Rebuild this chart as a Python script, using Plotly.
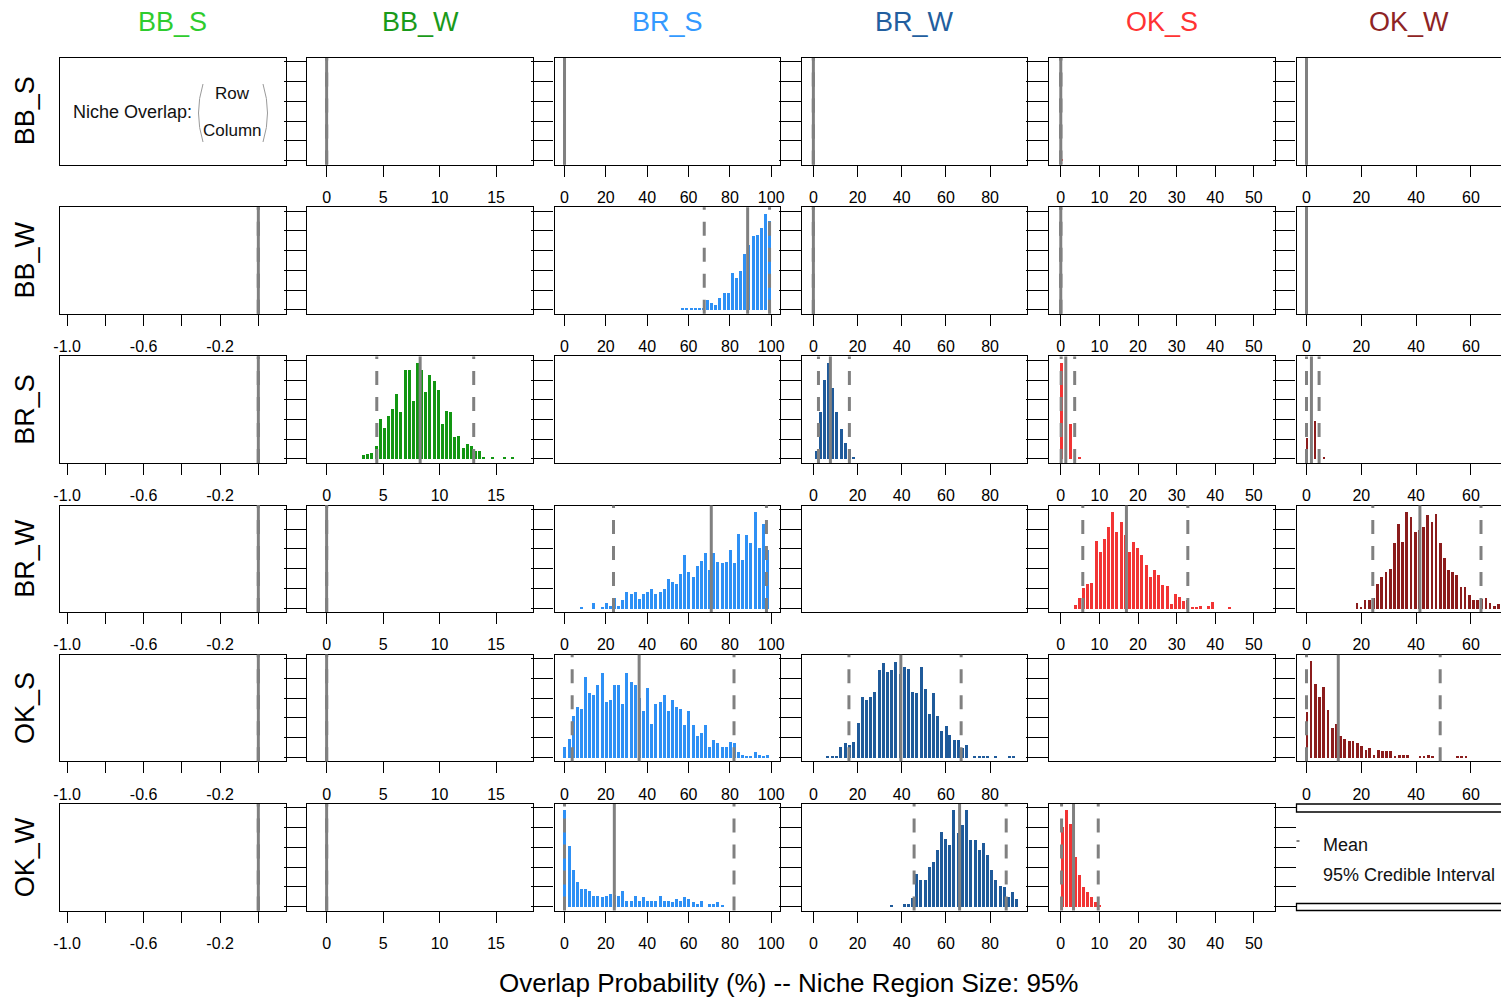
import plotly.graph_objects as go

W, H = 1501, 998

species = ["BB_S", "BB_W", "BR_S", "BR_W", "OK_S", "OK_W"]
title_colors = ["#2ECC2E", "#1A9A1A", "#3399FF", "#225E9E", "#FF3333", "#8E2424"]
bar_colors = ["#22B822", "#129612", "#2E90F5", "#1F5A9A", "#F23434", "#8B1C1C"]

# Posterior mean and 95% credible interval of the overlap probability (%)
# rows = niche of row species, cols = column species; diagonal unused
ov_mean = [
    [None, 0, 0, 0, 0, 0],
    [0, None, 88.6, 0, 0, 0],
    [0, 8.28, None, 7.7, 1.3, 1.8],
    [0, 0, 71.0, None, 17.0, 41.4],
    [0, 0, 36.1, 39.6, None, 11.6],
    [0, 0, 24.1, 66.2, 3.3, None],
]
ov_lo = [
    [None, 0, 0, 0, 0, 0],
    [0, None, 67.6, 0, 0, 0],
    [0, 4.44, None, 2.3, 0.1, 0.0],
    [0, 0, 23.7, None, 5.7, 24.2],
    [0, 0, 3.7, 16.1, None, 0.0],
    [0, 0, 0.0, 45.6, 0.2, None],
]
ov_hi = [
    [None, 0, 0, 0, 0, 0],
    [0, None, 99.2, 0, 0, 0],
    [0, 13.02, None, 16.3, 3.6, 4.6],
    [0, 0, 97.7, None, 32.9, 63.7],
    [0, 0, 82.0, 66.9, None, 48.8],
    [0, 0, 82.0, 87.3, 9.7, None],
]

# Histogram bin centres and relative heights of the posterior overlap draws
bbs_oks_x = [0.3]
bbs_oks_h = [0.015]

bbw_brs_x = [57, 59, 61, 63, 65, 67, 69, 71, 73, 75, 77, 79, 81, 83, 85, 87, 89, 91, 93, 95, 97, 99]
bbw_brs_h = [0.015, 0.015, 0.015, 0.01, 0.015, 0.02, 0.095, 0.068, 0.045, 0.12, 0.17, 0.17,
             0.375, 0.32, 0.39, 0.56, 0.65, 0.745, 0.76, 0.83, 0.965, 0.90]

brs_bbw_x = [3.30, 3.67, 4.03, 4.40, 4.77, 5.14, 5.50, 5.87, 6.24, 6.60, 6.97, 7.34, 7.70, 8.07,
             8.44, 8.81, 9.17, 9.54, 9.91, 10.27, 10.64, 11.01, 11.37, 11.74, 12.11, 12.48, 12.84,
             13.21, 13.58, 13.94, 14.68, 15.78, 16.51]
brs_bbw_h = [0.04, 0.05, 0.06, 0.13, 0.40, 0.31, 0.43, 0.50, 0.65, 0.47, 0.90, 0.90, 0.58, 0.97,
             0.90, 0.67, 0.85, 0.79, 0.70, 0.35, 0.48, 0.47, 0.22, 0.23, 0.11, 0.15, 0.13, 0.08,
             0.08, 0.015, 0.02, 0.015, 0.015]

brs_brw_x = [1.2, 3.1, 5.0, 6.8, 8.7, 10.6, 12.5, 14.4, 16.2, 18.1]
brs_brw_h = [0.08, 0.47, 0.80, 0.97, 0.72, 0.47, 0.30, 0.16, 0.095, 0.015]

brs_oks_x = [0.35, 2.6, 4.9]
brs_oks_h = [0.97, 0.35, 0.015]

brs_okw_x = [0.1, 3.05, 6.1]
brs_okw_h = [0.21, 0.38, 0.015]

brw_brs_x = [8, 14, 18, 20, 22, 24, 26, 28, 30, 32, 34, 36, 38, 40, 42, 44, 46, 48, 50, 52, 54,
             56, 58, 60, 62, 64, 66, 68, 70, 72, 74, 76, 78, 80, 82, 84, 86, 88, 90, 92, 94, 96, 98]
brw_brs_h = [0.015, 0.06, 0.015, 0.06, 0.027, 0.11, 0.03, 0.085, 0.165, 0.145, 0.165, 0.095,
             0.145, 0.165, 0.20, 0.145, 0.165, 0.20, 0.30, 0.27, 0.25, 0.355, 0.54, 0.37, 0.32,
             0.435, 0.48, 0.56, 0.39, 0.56, 0.47, 0.46, 0.47, 0.59, 0.46, 0.76, 0.49, 0.75, 0.66,
             0.98, 0.61, 0.86, 0.59]

brw_oks_x = [3.80, 4.88, 5.96, 7.04, 8.12, 9.20, 10.28, 11.36, 12.44, 13.52, 14.60, 15.68, 16.76,
             17.84, 18.92, 20.00, 21.08, 22.16, 23.24, 24.32, 25.40, 26.48, 27.56, 28.64, 29.72,
             30.80, 31.88, 32.96, 34.04, 35.12, 36.20, 38.36, 39.44, 43.76]
brw_oks_h = [0.034, 0.11, 0.21, 0.25, 0.26, 0.69, 0.57, 0.71, 0.83, 0.98, 0.78, 0.88, 0.75, 0.57,
             0.68, 0.61, 0.54, 0.44, 0.32, 0.39, 0.34, 0.24, 0.23, 0.05, 0.15, 0.12, 0.08, 0.09,
             0.017, 0.017, 0.027, 0.027, 0.068, 0.015]

brw_okw_x = [18.2, 19.7, 21.2, 22.8, 24.3, 25.8, 27.3, 28.8, 30.4, 31.9, 33.4, 34.9, 36.4, 38.0,
             39.5, 41.0, 42.5, 44.0, 45.6, 47.1, 48.6, 50.1, 51.6, 53.2, 54.7, 56.2, 57.7, 59.2,
             60.8, 62.3, 63.8, 65.3, 66.8, 68.4, 69.9, 71.4]
brw_okw_h = [0.06, 0.015, 0.085, 0.085, 0.11, 0.25, 0.32, 0.37, 0.40, 0.66, 0.86, 0.68, 0.98, 0.93,
             0.78, 0.80, 0.83, 0.95, 0.88, 0.96, 0.66, 0.51, 0.39, 0.37, 0.34, 0.22, 0.22, 0.135,
             0.085, 0.085, 0.10, 0.11, 0.06, 0.027, 0.044, 0.03]

oks_brs_x = [0, 2, 4, 6, 8, 10, 12, 14, 16, 18, 20, 22, 24, 26, 28, 30, 32, 34, 36, 38, 40, 42,
             44, 46, 48, 50, 52, 54, 56, 58, 60, 62, 64, 66, 68, 70, 72, 74, 76, 78, 80, 82, 84,
             86, 88, 90, 92, 94, 96, 98]
oks_brs_h = [0.11, 0.185, 0.42, 0.51, 0.49, 0.82, 0.65, 0.63, 0.74, 0.86, 0.56, 0.58, 0.74, 0.74,
             0.54, 0.86, 0.77, 0.74, 0.60, 0.47, 0.71, 0.34, 0.54, 0.56, 0.63, 0.47, 0.58, 0.51,
             0.49, 0.33, 0.47, 0.33, 0.22, 0.25, 0.33, 0.11, 0.18, 0.15, 0.11, 0.11, 0.16, 0.15,
             0.06, 0.025, 0.015, 0.015, 0.06, 0.025, 0.015, 0.025]

oks_brw_x = [6.5, 8.4, 10.4, 12.4, 14.4, 16.3, 18.2, 20.2, 22.0, 24.0, 25.9, 27.8, 29.7, 31.6,
             33.5, 35.4, 37.3, 39.2, 41.1, 43.0, 44.9, 46.8, 48.7, 50.5, 52.4, 54.3, 56.2, 58.1,
             60.0, 61.8, 63.7, 65.6, 67.5, 69.4, 73.1, 75.0, 76.9, 78.8, 82.6, 88.6, 90.4]
oks_brw_h = [0.015, 0.015, 0.015, 0.11, 0.15, 0.13, 0.16, 0.35, 0.61, 0.58, 0.61, 0.66, 0.89, 0.96,
             0.87, 0.89, 0.97, 0.85, 0.92, 0.90, 0.66, 0.65, 0.92, 0.70, 0.44, 0.65, 0.42, 0.27,
             0.32, 0.23, 0.18, 0.18, 0.095, 0.13, 0.015, 0.02, 0.015, 0.01, 0.01, 0.01, 0.01]

oks_okw_x = [0.0, 1.5, 3.0, 4.6, 6.1, 7.7, 9.3, 10.7, 12.3, 13.8, 15.4, 16.8, 18.4, 19.9, 21.5,
             22.9, 24.5, 26.0, 27.6, 29.0, 30.6, 32.1, 33.7, 35.1, 36.7, 41.2, 42.7, 44.3, 45.9,
             54.9, 56.5, 58.0]
oks_okw_h = [0.46, 0.98, 0.75, 0.61, 0.72, 0.48, 0.30, 0.34, 0.22, 0.185, 0.17, 0.17, 0.15, 0.12,
             0.08, 0.10, 0.03, 0.08, 0.065, 0.065, 0.065, 0.015, 0.03, 0.03, 0.03, 0.015, 0.015,
             0.03, 0.015, 0.015, 0.015, 0.015]

okw_brs_x = [0, 2, 4, 6, 8, 10, 12, 14, 16, 18, 20, 22, 24, 26, 28, 30, 32, 34, 36, 38, 40, 42,
             44, 46, 48, 50, 52, 54, 56, 58, 60, 62, 64, 66, 70, 72, 74, 76]
okw_brs_h = [0.98, 0.61, 0.37, 0.25, 0.18, 0.18, 0.16, 0.11, 0.11, 0.095, 0.11, 0.13, 0.12, 0.11,
             0.16, 0.06, 0.06, 0.11, 0.06, 0.095, 0.06, 0.06, 0.06, 0.11, 0.06, 0.06, 0.045, 0.08,
             0.06, 0.095, 0.08, 0.045, 0.027, 0.06, 0.027, 0.027, 0.045, 0.02]

okw_brw_x = [35.3, 41.0, 43.0, 44.8, 46.8, 48.6, 50.5, 52.3, 54.3, 56.1, 58.1, 59.9, 61.8, 63.6,
             65.5, 67.4, 69.4, 71.2, 73.2, 75.0, 76.9, 78.7, 80.7, 82.5, 84.5, 86.3, 88.2, 90.0, 92.0]
okw_brw_h = [0.02, 0.03, 0.03, 0.085, 0.33, 0.27, 0.27, 0.40, 0.45, 0.57, 0.76, 0.69, 0.62, 0.98,
             0.75, 0.83, 0.98, 0.67, 0.67, 0.57, 0.64, 0.52, 0.37, 0.27, 0.21, 0.20, 0.095, 0.15, 0.08]

okw_oks_x = [0.43, 1.55, 2.6, 3.8, 4.8, 6.0, 7.0, 8.1, 9.1, 10.1]
okw_oks_h = [0.81, 0.98, 0.84, 0.50, 0.32, 0.20, 0.15, 0.095, 0.044, 0.02]

hists = {
    (0, 4): (bbs_oks_x, bbs_oks_h),
    (1, 2): (bbw_brs_x, bbw_brs_h),
    (2, 1): (brs_bbw_x, brs_bbw_h),
    (2, 3): (brs_brw_x, brs_brw_h),
    (2, 4): (brs_oks_x, brs_oks_h),
    (2, 5): (brs_okw_x, brs_okw_h),
    (3, 2): (brw_brs_x, brw_brs_h),
    (3, 4): (brw_oks_x, brw_oks_h),
    (3, 5): (brw_okw_x, brw_okw_h),
    (4, 2): (oks_brs_x, oks_brs_h),
    (4, 3): (oks_brw_x, oks_brw_h),
    (4, 5): (oks_okw_x, oks_okw_h),
    (5, 2): (okw_brs_x, okw_brs_h),
    (5, 3): (okw_brw_x, okw_brw_h),
    (5, 4): (okw_oks_x, okw_oks_h),
}
# bar width in pixels (thin spikes where only a few discrete values occur)
bar_px = {(2, 5): 1.3}

# x-axis set-up of each column
col_range = [[-1.037, 0.142], [-1.71, 18.25], [-4.8, 104.3], [-5.2, 96.9], [-3.0, 55.4], [-3.65, 71.0]]
col_tickvals = [[-1.0, -0.8, -0.6, -0.4, -0.2, 0.0], [0, 5, 10, 15], [0, 20, 40, 60, 80, 100],
                [0, 20, 40, 60, 80], [0, 10, 20, 30, 40, 50], [0, 20, 40, 60]]
col_ticktext = [["-1.0", "", "-0.6", "", "-0.2", ""], ["0", "5", "10", "15"],
                ["0", "20", "40", "60", "80", "100"], ["0", "20", "40", "60", "80"],
                ["0", "10", "20", "30", "40", "50"], ["0", "20", "40", "60"]]

# panel geometry (pixels)
col_left = [60.0, 307.3, 554.6, 801.9, 1049.2, 1296.5]
box_w = 225.5
row_top = [58.0, 207.2, 356.4, 505.6, 654.8, 804.0]
box_h = 106.5

FONT = "Liberation Sans, Arial, sans-serif"
GREY = "#808080"


def px(x):
    return x / W


def py(y):
    return 1 - y / H


fig = go.Figure()
layout = dict(
    width=W, height=H, margin=dict(l=0, r=0, t=0, b=0, autoexpand=False),
    paper_bgcolor="white", plot_bgcolor="white", showlegend=False,
    font=dict(family=FONT, color="black"), bargap=0,
)
shapes = []
annotations = []

for r in range(6):
    for c in range(6):
        n = r * 6 + c + 1
        sfx = "" if n == 1 else str(n)
        xa, ya = "x" + sfx, "y" + sfx
        x0 = col_left[c]
        x1 = min(x0 + box_w, W)
        diag = (r == c)
        legend_cell = (r == 5 and c == 5)
        layout["xaxis" + sfx] = dict(
            domain=[px(x0), px(x1)], range=col_range[c], anchor=ya,
            showgrid=False, zeroline=False,
            showline=not legend_cell, mirror=True, linecolor="black", linewidth=1.3,
            ticks="" if diag else "outside", ticklen=11, tickwidth=1.3, tickcolor="black",
            tickvals=col_tickvals[c], ticktext=col_ticktext[c],
            showticklabels=not diag, ticklabelstandoff=7,
            tickfont=dict(family=FONT, size=16, color="black"), fixedrange=True,
        )
        layout["yaxis" + sfx] = dict(
            domain=[py(row_top[r] + box_h), py(row_top[r])], range=[-0.04, 1.04], anchor=xa,
            showgrid=False, zeroline=False,
            showline=not legend_cell, mirror=True, linecolor="black", linewidth=1.3,
            ticks="outside" if c > 0 else "", ticklen=22, tickwidth=1.3, tickcolor="black",
            tickvals=[0, 0.2, 0.4, 0.6, 0.8, 1.0], showticklabels=False, fixedrange=True,
        )
        # empty trace so every panel gets its frame
        fig.add_trace(go.Scatter(x=[None], y=[None], xaxis=xa, yaxis=ya, mode="markers",
                                 hoverinfo="skip"))
        if diag:
            continue
        # histogram bars
        if (r, c) in hists:
            hx, hh = hists[(r, c)]
            ppu = box_w / (col_range[c][1] - col_range[c][0])
            fig.add_trace(go.Bar(
                x=hx, y=hh, width=bar_px.get((r, c), 3.0) / ppu,
                marker=dict(color=bar_colors[c], line=dict(width=0)),
                xaxis=xa, yaxis=ya, hoverinfo="skip",
            ))
        # credible interval (dashed) and mean (solid)
        for v in (ov_lo[r][c], ov_hi[r][c]):
            shapes.append(dict(type="line", xref=xa, yref=ya + " domain", x0=v, x1=v, y0=0, y1=1,
                               line=dict(color=GREY, width=3, dash="14px,12px"), layer="above"))
        m = ov_mean[r][c]
        shapes.append(dict(type="line", xref=xa, yref=ya + " domain", x0=m, x1=m, y0=0, y1=1,
                           line=dict(color=GREY, width=3), layer="above"))

# column titles and row labels
for i, s in enumerate(species):
    annotations.append(dict(text=s, x=px(col_left[i] + box_w / 2), y=py(22), xref="paper", yref="paper",
                            showarrow=False, font=dict(size=27, color=title_colors[i], family=FONT),
                            xanchor="center", yanchor="middle"))
    annotations.append(dict(text=s, x=px(25), y=py(row_top[i] + box_h / 2), xref="paper", yref="paper",
                            showarrow=False, textangle=-90, font=dict(size=27, color="black", family=FONT),
                            xanchor="center", yanchor="middle"))

annotations.append(dict(text="Overlap Probability (%) -- Niche Region Size: 95%", x=px(788), y=py(983),
                        xref="paper", yref="paper", showarrow=False,
                        font=dict(size=26, color="black", family=FONT), xanchor="center", yanchor="middle"))

# key in the top-left panel
annotations.append(dict(text="Niche Overlap:", x=px(132), y=py(112), xref="paper", yref="paper",
                        showarrow=False, font=dict(size=18, color="#111111", family=FONT),
                        xanchor="center", yanchor="middle"))
annotations.append(dict(text="Row", x=px(232), y=py(94), xref="paper", yref="paper", showarrow=False,
                        font=dict(size=17, color="#111111", family=FONT), xanchor="center", yanchor="middle"))
annotations.append(dict(text="Column", x=px(232), y=py(130), xref="paper", yref="paper", showarrow=False,
                        font=dict(size=17, color="#111111", family=FONT), xanchor="center", yanchor="middle"))
for xa_, xc_ in ((203, 194), (263, 272)):
    shapes.append(dict(type="path", xref="paper", yref="paper",
                       path=f"M {px(xa_)},{py(84)} Q {px(xc_)},{py(113)} {px(xa_)},{py(142)}",
                       line=dict(color="#9A9A9A", width=1)))

# legend in the bottom-right panel
lt, lb = row_top[5], row_top[5] + box_h
for (ya0, ya1) in ((lt, lt + 8), (lb - 7, lb)):
    shapes.append(dict(type="rect", xref="paper", yref="paper", x0=px(col_left[5]), x1=px(W + 20),
                       y0=py(ya1), y1=py(ya0), line=dict(color="black", width=1.3),
                       fillcolor="rgba(0,0,0,0)"))
shapes.append(dict(type="line", xref="paper", yref="paper", x0=px(col_left[5]), x1=px(col_left[5] + 3),
                   y0=py(841), y1=py(841), line=dict(color=GREY, width=2)))
annotations.append(dict(text="Mean", x=px(1321), y=py(845), xref="paper", yref="paper", showarrow=False,
                        font=dict(size=18, color="#111111", family=FONT), xanchor="left", yanchor="middle"))
annotations.append(dict(text="95% Credible Interval", x=px(1321), y=py(875), xref="paper", yref="paper",
                        showarrow=False, font=dict(size=18, color="#111111", family=FONT),
                        xanchor="left", yanchor="middle"))

layout["shapes"] = shapes
layout["annotations"] = annotations
fig.update_layout(**layout)
fig.write_html("out.html")
